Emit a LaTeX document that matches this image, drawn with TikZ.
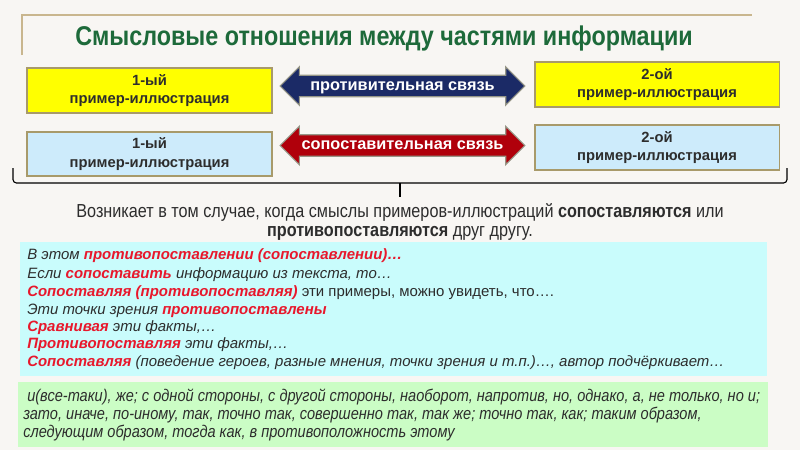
\documentclass[tikz,border=0pt]{standalone}
\usepackage{fontspec}
\setmainfont{Liberation Sans}
\newfontfamily\narrowfont{Liberation Sans}[FakeStretch=0.86]
\usepackage{xcolor}
\usetikzlibrary{shapes.arrows}

\definecolor{paper}{RGB}{248,246,243}
\definecolor{rulecol}{RGB}{201,182,142}
\definecolor{titlegreen}{RGB}{29,106,58}
\definecolor{boxedge}{RGB}{168,154,106}
\definecolor{boxyellow}{RGB}{255,255,0}
\definecolor{boxblue}{RGB}{205,235,251}
\definecolor{arrownavy}{RGB}{27,42,102}
\definecolor{arrowred}{RGB}{176,0,11}
\definecolor{arrowedge}{RGB}{150,150,135}
\definecolor{cyanfill}{RGB}{201,252,252}
\definecolor{greenfill}{RGB}{203,253,197}
\definecolor{accentred}{RGB}{232,24,44}
\definecolor{darktext}{RGB}{45,45,45}

\newcommand{\redpart}[1]{\textcolor{accentred}{\textbf{#1}}}

\begin{document}
\begin{tikzpicture}[x=0.025cm, y=-0.025cm,
    titletext/.style={font=\narrowfont\bfseries\fontsize{19.3}{22}\selectfont, text=titlegreen},
    examplebox/.style={draw=boxedge, line width=1.2pt, align=center, text=darktext,
        font=\bfseries\fontsize{10.5}{13}\selectfont, minimum width=174pt},
    linkarrow/.style={double arrow, double arrow head extend=6pt, draw=arrowedge,
        line width=0.8pt, minimum height=174pt, minimum width=26.5pt, inner xsep=0pt,
        inner ysep=2.2pt, text=white, font=\bfseries\fontsize{11.6}{13}\selectfont,
        text height=1.5ex, text depth=.4ex},
    midtext/.style={align=center, text=darktext, font=\narrowfont\fontsize{13.4}{12.9}\selectfont},
    cyanline/.style={anchor=west, inner sep=0pt, text=darktext,
        font=\itshape\fontsize{10.65}{12}\selectfont, text height=1.6ex, text depth=.45ex},
    greenline/.style={anchor=west, inner sep=0pt, text=darktext,
        font=\narrowfont\itshape\fontsize{12.05}{13}\selectfont, text height=1.6ex, text depth=.45ex}]

    % paper and frame
    \fill[paper] (0,0) rectangle (800,450);
    \useasboundingbox (0,0) rectangle (800,450);
    \draw[rulecol, line width=1pt] (22,55) -- (22,15) -- (752,15); % Title rule

    % title
    \node[titletext] (title) at (384,38) {Смысловые отношения между частями информации};

    % Top row
    \node[examplebox, fill=boxyellow, minimum height=32pt] (exA1) at (149.5,90.5) {1-ый\\пример-иллюстрация};
    \node[examplebox, fill=boxyellow, minimum height=32pt] (exA2) at (657,84.5) {2-ой\\пример-иллюстрация};
    \node[linkarrow, fill=arrownavy] (linkA) at (402.5,86) {противительная связь};

    % Bottom row
    \node[examplebox, fill=boxblue, minimum height=31.3pt] (exB1) at (149.5,154) {1-ый\\пример-иллюстрация};
    \node[examplebox, fill=boxblue, minimum height=32pt] (exB2) at (657,147.5) {2-ой\\пример-иллюстрация};
    \node[linkarrow, fill=arrowred] (linkB) at (402.5,145.5) {сопоставительная связь};

    % bracket under both rows
    \draw[line width=0.8pt, rounded corners=2.5pt] (13,168) -- (13,183) -- (787,183) -- (787,168);
    \draw[line width=0.8pt] (400,183) -- (400,197);

    \node[midtext] (explain) at (400,222) {Возникает в том случае, когда смыслы примеров-иллюстраций \textbf{сопоставляются} или\\
        \textbf{противопоставляются} друг другу.};

    % cyan box
    \fill[cyanfill] (20,242) rectangle (767,376);
    \node[cyanline] (c1) at (27,255) {В этом \redpart{противопоставлении (сопоставлении)…}};
    \node[cyanline] (c2) at (27,274) {Если \redpart{сопоставить} информацию из текста, то…};
    \node[cyanline] (c3) at (27,292) {\redpart{Сопоставляя (противопоставляя)} {\upshape эти примеры, можно увидеть, что….}};
    \node[cyanline] (c4) at (27,310) {Эти точки зрения \redpart{противопоставлены}};
    \node[cyanline] (c5) at (27,327) {\redpart{Сравнивая} эти факты,…};
    \node[cyanline] (c6) at (27,344) {\redpart{Противопоставляя} эти факты,…};
    \node[cyanline] (c7) at (27,362) {\redpart{Сопоставляя} (поведение героев, разные мнения, точки зрения и т.п.)…, автор подчёркивает…};

    % green box
    \fill[greenfill] (18,382) rectangle (768,447);
    \node[greenline] (g1) at (27,397) {и(все-таки), же; с одной стороны, с другой стороны, наоборот, напротив, но, однако, а, не только, но и;};
    \node[greenline] (g2) at (23,415) {зато, иначе, по-иному, так, точно так, совершенно так, так же; точно так, как; таким образом,};
    \node[greenline] (g3) at (23,433) {следующим образом, тогда как, в противоположность этому};
\end{tikzpicture}
\end{document}
